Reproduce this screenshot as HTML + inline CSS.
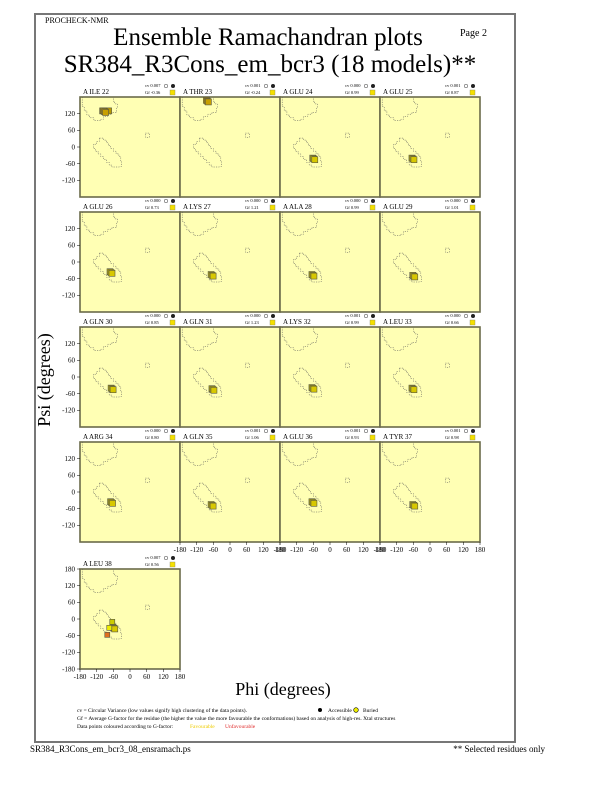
<!DOCTYPE html>
<html><head><meta charset="utf-8"><style>
html,body{margin:0;padding:0;background:#fff;}
svg{display:block;font-family:"Liberation Serif",serif;}
</style></head><body>
<svg id="s" width="612" height="792" viewBox="0 0 612 792" xmlns="http://www.w3.org/2000/svg">
<rect x="35" y="14" width="480" height="728" fill="none" stroke="#777" stroke-width="2"/>
<text x="45" y="23" font-size="8">PROCHECK-NMR</text>
<text x="268" y="45" font-size="25" text-anchor="middle">Ensemble Ramachandran plots</text>
<text x="270" y="72" font-size="25" text-anchor="middle">SR384_R3Cons_em_bcr3 (18 models)**</text>
<text x="460" y="36" font-size="10">Page  2</text>
<text x="50" y="380" font-size="18" text-anchor="middle" transform="rotate(-90 50 380)">Psi (degrees)</text>
<text x="283" y="695" font-size="18" text-anchor="middle">Phi (degrees)</text>
<g font-size="5.5">
<text x="77" y="712">cv = Circular Variance (low values signify high clustering of the data points).</text>
<circle cx="320" cy="710" r="2" fill="#000"/><text x="328" y="712">Accessible</text>
<circle cx="356" cy="710" r="2.3" fill="#ee0" stroke="#000" stroke-width="0.6"/><text x="363" y="712">Buried</text>
<text x="77" y="720">Gf = Average G-factor for the residue (the higher the value the more favourable the conformations) based on analysis of high-res. Xtal structures</text>
<text x="77" y="728">Data points coloured according to G-factor:</text>
<text x="190" y="728" fill="#eecc00">Favourable</text>
<text x="225" y="728" fill="#e03030">Unfavourable</text>
</g>
<text x="30" y="752" font-size="9">SR384_R3Cons_em_bcr3_08_ensramach.ps</text>
<text x="545" y="752" font-size="9" text-anchor="end">** Selected residues only</text>
<g id="p"></g>
</svg>
<script>
const P=[["ILE 22","0.007","-0.36",-95,130],["THR 23","0.001","-0.24",-85,168],["GLU 24","0.000","0.99",-62,-40],["GLU 25","0.001","0.87",-65,-40],
["GLU 26","0.000","0.73",-72,-35],["LYS 27","0.000","1.21",-68,-45],["ALA 28","0.000","0.99",-65,-45],["GLU 29","0.000","1.01",-62,-48],
["GLN 30","0.000","0.85",-68,-40],["GLN 31","0.000","1.23",-65,-42],["LYS 32","0.001","0.99",-65,-38],["LEU 33","0.000","0.66",-65,-40],
["ARG 34","0.000","0.80",-70,-35],["GLN 35","0.001","1.06",-68,-45],["GLU 36","0.001","0.93",-65,-35],["TYR 37","0.001","0.98",-62,-45],
["LEU 38","0.007","0.56",-62,-30]];
const top1=[[-172,180],[-172,145],[-165,145],[-165,130],[-155,130],[-155,115],[-145,115],[-145,105],[-130,105],[-130,95],[-105,95],[-105,100],[-95,100],[-95,110],[-80,110],[-80,118],[-65,118],[-65,125],[-48,125],[-48,140],[-45,140],[-45,155],[-55,155],[-55,165],[-60,165],[-60,180]];
const bot=[[-110,32],[-95,32],[-95,25],[-85,25],[-85,15],[-78,15],[-78,5],[-70,5],[-70,-5],[-60,-5],[-60,-15],[-50,-15],[-50,-25],[-40,-25],[-40,-35],[-33,-35],[-33,-50],[-30,-50],[-30,-70],[-40,-72],[-65,-72],[-65,-65],[-75,-65],[-75,-55],[-85,-55],[-85,-45],[-95,-45],[-95,-35],[-105,-35],[-105,-25],[-115,-25],[-115,-15],[-125,-15],[-125,-5],[-132,-5],[-132,10],[-120,10],[-120,20],[-110,20],[-110,32]];
const sm=[[55,50],[70,50],[70,35],[55,35],[55,50]];
let h="";
const tops=[97,212,327,442,569];
function path(pts,x0,y0){return pts.map((p,i)=>(i?"L":"M")+(x0+(p[0]+180)/3.6).toFixed(1)+" "+(y0+(180-p[1])/3.6).toFixed(1)).join(" ");}
P.forEach((d,i)=>{const r=Math.floor(i/4),c=i%4;const x0=80+c*100,y0=tops[r];
h+=`<rect x="${x0}" y="${y0}" width="100" height="100" fill="#ffffb4" stroke="#6b6b4a" stroke-width="1.6"/>`;
[top1,bot,sm].forEach(pp=>h+=`<path d="${path(pp,x0,y0)}" fill="none" stroke="#555" stroke-width="0.5" stroke-dasharray="1.2,1.2"/>`);
h+=`<text x="${x0+3}" y="${y0-3}" font-size="7">A ${d[0]}</text>`;
h+=`<text x="${x0+65}" y="${y0-10}" font-size="4.5">cv ${d[1]}</text><circle cx="${x0+86}" cy="${y0-11}" r="1.8" fill="none" stroke="#000" stroke-width="0.4"/><circle cx="${x0+93}" cy="${y0-11}" r="2" fill="#222"/>`;
h+=`<text x="${x0+65}" y="${y0-3}" font-size="4.5">Gf ${d[2]}</text><rect x="${x0+90}" y="${y0-7}" width="5" height="5" fill="#f5e000" stroke="#886" stroke-width="0.4"/>`;
const px=x0+(d[3]+180)/3.6,py=y0+(180-d[4])/3.6;
const col=parseFloat(d[2])<0?"#c8a000":"#d8c800";
if(i==0){h+=`<rect x="${px-4}" y="${py-3}" width="12" height="6" fill="#b89a00" stroke="#554" stroke-width="0.6"/>`;}
for(let k=0;k<3;k++)h+=`<rect x="${px-3+k}" y="${py-3+k*0.8}" width="6" height="6" fill="${col}" stroke="#554" stroke-width="0.6"/>`;
if(i==16){h+=`<rect x="${px-3}" y="${py-8}" width="5" height="5" fill="#cc0" stroke="#554" stroke-width="0.6"/><rect x="${px-8}" y="${py+5}" width="5" height="5" fill="#e07020" stroke="#554" stroke-width="0.6"/><rect x="${px-6}" y="${py-2}" width="5" height="5" fill="#ee0" stroke="#554" stroke-width="0.6"/>`;}
if(c==0){const vals=r==4?[180,120,60,0,-60,-120,-180]:[120,60,0,-60,-120];
vals.forEach(v=>{const yy=y0+(180-v)/3.6;h+=`<line x1="${x0-3}" x2="${x0}" y1="${yy}" y2="${yy}" stroke="#000" stroke-width="0.5"/><text x="${x0-5}" y="${yy+2.3}" font-size="7" text-anchor="end">${v}</text>`;});}
if((r==3&&c>0)||r==4){[-180,-120,-60,0,60,120,180].forEach(v=>{const xx=x0+(v+180)/3.6;h+=`<line x1="${xx}" x2="${xx}" y1="${y0+100}" y2="${y0+103}" stroke="#000" stroke-width="0.5"/><text x="${xx}" y="${y0+110}" font-size="7" text-anchor="middle">${v}</text>`;});}
});
document.getElementById("p").innerHTML=h;
</script>
</body></html>
